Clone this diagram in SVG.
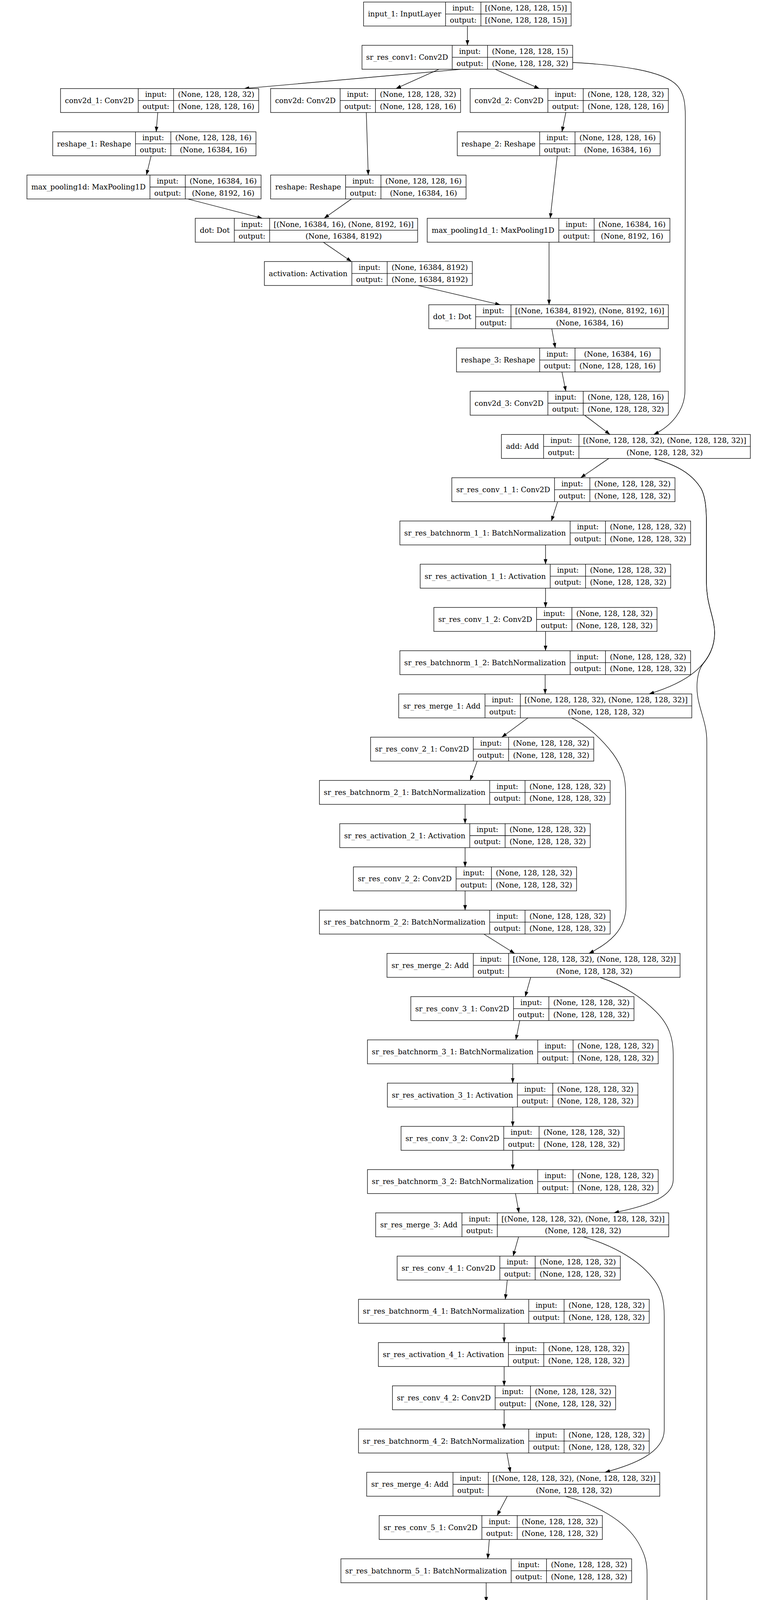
<svg xmlns="http://www.w3.org/2000/svg" xmlns:xlink="http://www.w3.org/1999/xlink" width="1959" height="6381" viewBox="0 0 1959 6381">
<style>
.b{fill:#fff;stroke:#000;stroke-width:1.33}
.l{fill:none;stroke:#000;stroke-width:1.33}
.e{fill:none;stroke:#000;stroke-width:1.33;marker-end:url(#ah)}
text{font-family:"DejaVu Serif","Liberation Serif",serif;font-size:18.67px;text-anchor:middle;fill:#000}
</style>
<defs>
<marker id="ah" viewBox="0 0 13 9.4" refX="13" refY="4.7" markerWidth="13" markerHeight="9.4" markerUnits="userSpaceOnUse" orient="auto"><path d="M0,0L13,4.7L0,9.4z" fill="#000"/></marker>
<g id="fc"><rect class="b" width="571.5" height="61.3"/><path class="l" d="M263,0V61.3M353.5,0V61.3M263,30.65H571.5"/></g>
<g id="fb"><rect class="b" width="744.5" height="61.3"/><path class="l" d="M436,0V61.3M526.5,0V61.3M436,30.65H744.5"/></g>
<g id="fa"><rect class="b" width="641.5" height="61.3"/><path class="l" d="M333,0V61.3M423.5,0V61.3M333,30.65H641.5"/></g>
<g id="fm"><rect class="b" width="750.5" height="61.3"/><path class="l" d="M221,0V61.3M311.5,0V61.3M221,30.65H750.5"/></g>
<g id="fk"><rect class="b" width="507.5" height="61.3"/><path class="l" d="M199,0V61.3M289.5,0V61.3M199,30.65H507.5"/></g>
</defs>
<rect width="1959" height="6381" fill="#fff"/>
<g id="edges">
<path class="e" d="M1197,66.6L1197,116"/>
<path class="e" d="M1181,177.3L625,226.7"/>
<path class="e" d="M1124,177.3L1014,226.7"/>
<path class="e" d="M1268,177.3L1381,226.7"/>
<path class="e" d="M1467,160C1580,166 1700,180 1735,220C1752,240 1755,265 1755,300L1754,1000C1754,1050 1720,1090 1674,1112.3"/>
<path class="e" d="M404,288L400,337.4"/>
<path class="e" d="M938,288L943,448.1"/>
<path class="e" d="M1449,288L1439,337.4"/>
<path class="e" d="M387,398.7L375,448.1"/>
<path class="e" d="M1427,398.7L1409,558.8"/>
<path class="e" d="M481,509.4L672,558.8"/>
<path class="e" d="M900,509.4L830,558.8"/>
<path class="e" d="M828,620.1L900,669.5"/>
<path class="e" d="M1071,730.8L1281,780.2"/>
<path class="e" d="M1406,620.1L1406,780.2"/>
<path class="e" d="M1413,841.5L1422,890.9"/>
<path class="e" d="M1439,952.2L1449,1001.6"/>
<path class="e" d="M1497,1062.9L1562,1112.3"/>
<path class="e" d="M1559,1173.6L1487,1223"/>
<path class="e" d="M1674,1173.6C1730,1190 1770,1210 1795,1250C1806,1270 1809,1300 1809,1340L1809,1490C1809,1550 1830,1580 1830,1620C1830,1660 1810,1690 1790,1710C1760,1740 1710,1762 1662,1776.5"/>
<path class="e" d="M1674,1173.6C1730,1190 1770,1210 1795,1250C1806,1270 1809,1300 1809,1340L1809,1490C1809,1550 1830,1580 1830,1620C1830,1660 1812,1685 1800,1700C1785,1720 1780,1760 1790,1800C1800,1840 1810,1860 1810,1900L1810,6075C1810,6140 1780,6175 1726,6204.5"/>
<path class="e" d="M1428,1284.3L1412,1333.7"/>
<path class="e" d="M1397,1395L1397,1444.4"/>
<path class="e" d="M1397,1505.7L1397,1555.1"/>
<path class="e" d="M1397,1616.4L1397,1665.8"/>
<path class="e" d="M1396,1727.1L1396,1776.5"/>
<path class="e" d="M1352,1837.8L1285,1887.2"/>
<path class="e" d="M1464,1837.8C1500,1855 1540,1890 1570,1930C1595,1965 1602,1990 1602,2030L1603,2320C1603,2380 1560,2415 1508,2440.7"/>
<path class="e" d="M1222,1948.5L1204,1997.9"/>
<path class="e" d="M1191,2059.2L1191,2108.6"/>
<path class="e" d="M1191,2169.9L1191,2219.3"/>
<path class="e" d="M1191,2280.6L1191,2330"/>
<path class="e" d="M1239,2391.3L1318,2440.7"/>
<path class="e" d="M1359,2502L1345,2551.4"/>
<path class="e" d="M1536,2502C1590,2520 1640,2550 1680,2590C1715,2625 1724,2660 1724,2700L1724,3020C1724,3070 1640,3090 1572,3104.9"/>
<path class="e" d="M1331,2612.7L1321,2662.1"/>
<path class="e" d="M1313,2723.4L1313,2772.8"/>
<path class="e" d="M1313,2834.1L1313,2883.5"/>
<path class="e" d="M1313,2944.8L1313,2994.2"/>
<path class="e" d="M1320,3055.5L1329,3104.9"/>
<path class="e" d="M1328,3166.2L1314,3215.6"/>
<path class="e" d="M1493,3166.2C1560,3185 1630,3220 1670,3270C1695,3300 1701,3330 1701,3370L1701,3660C1701,3720 1620,3750 1549,3769.1"/>
<path class="e" d="M1299,3276.9L1294,3326.3"/>
<path class="e" d="M1291,3387.6L1291,3437"/>
<path class="e" d="M1291,3498.3L1291,3547.7"/>
<path class="e" d="M1291,3609L1291,3658.4"/>
<path class="e" d="M1298,3719.7L1307,3769.1"/>
<path class="e" d="M1299,3830.4L1273,3879.8"/>
<path class="e" d="M1448,3830.4C1520,3850 1600,3890 1635,3950C1652,3980 1657,4000 1657,4030L1657,4290C1657,4380 1580,4415 1503,4433.3"/>
<path class="e" d="M1253,3941.1L1249,3990.5"/>
<path class="e" d="M1245,4051.8L1245,4101.2"/>
<path class="e" d="M1245,4162.5L1245,4211.9"/>
<path class="e" d="M1245,4273.2L1245,4322.6"/>
<path class="e" d="M1252,4383.9L1261,4433.3"/>
<path class="e" d="M1241,4494.6L1196,4544"/>
<path class="e" d="M1371,4494.6C1440,4520 1510,4555 1545,4610C1562,4640 1568,4660 1568,4700L1568,4970C1568,5040 1480,5075 1412,5097.5"/>
<path class="e" d="M1164,4605.3L1158,4654.7"/>
<path class="e" d="M1154,4716L1154,4765.4"/>
<path class="e" d="M1154,4826.7L1154,4876.1"/>
<path class="e" d="M1154,4937.4L1154,4986.8"/>
<path class="e" d="M1162,5048.1L1171,5097.5"/>
<path class="e" d="M956,5158.8L585,5208.2"/>
<path class="e" d="M1103,5158.8L981,5208.2"/>
<path class="e" d="M1249,5158.8L1362,5208.2"/>
<path class="e" d="M1553,5157C1620,5175 1700,5200 1727,5240C1740,5260 1743,5290 1743,5320L1743,5955C1743,6030 1690,6070 1630,6093.8"/>
<path class="e" d="M354,5269.5L344,5318.9"/>
<path class="e" d="M905,5269.5L910,5429.6"/>
<path class="e" d="M1431,5269.5L1424,5318.9"/>
<path class="e" d="M327,5380.2L322,5429.6"/>
<path class="e" d="M1416,5380.2L1397,5540.3"/>
<path class="e" d="M437,5490.9L643,5540.3"/>
<path class="e" d="M871,5490.9L806,5540.3"/>
<path class="e" d="M810,5601.6L878,5651"/>
<path class="e" d="M1053,5712.3L1266,5761.7"/>
<path class="e" d="M1395,5601.6L1395,5761.7"/>
<path class="e" d="M1402,5823L1411,5872.4"/>
<path class="e" d="M1424,5933.7L1431,5983.1"/>
<path class="e" d="M1438,6044.4L1441,6093.8"/>
<path class="e" d="M1493,6155.1L1572,6204.5"/>
<path class="e" d="M1625,6265.8L1625,6315.2"/>
</g>
<g id="nodes">
<g id="input_1" transform="translate(931,5.3)"><rect class="b" width="531.5" height="61.3"/><path class="l" d="M210,0V61.3M300.5,0V61.3M210,30.65H531.5"/><text x="105" y="37.2">input_1: InputLayer</text><text x="255.25" y="21.8">input:</text><text x="255.25" y="52.5">output:</text><text x="416" y="21.8">[(None, 128, 128, 15)]</text><text x="416" y="52.5">[(None, 128, 128, 15)]</text></g>
<g id="sr_res_conv1" transform="translate(927,116)"><rect class="b" width="539.5" height="61.3"/><path class="l" d="M231,0V61.3M321.5,0V61.3M231,30.65H539.5"/><text x="115.5" y="37.2">sr_res_conv1: Conv2D</text><text x="276.25" y="21.8">input:</text><text x="276.25" y="52.5">output:</text><text x="430.5" y="21.8">(None, 128, 128, 15)</text><text x="430.5" y="52.5">(None, 128, 128, 32)</text></g>
<g id="conv2d_1" transform="translate(155,226.7)"><use xlink:href="#fk"/><text x="99.5" y="37.2">conv2d_1: Conv2D</text><text x="244.25" y="21.8">input:</text><text x="244.25" y="52.5">output:</text><text x="398.5" y="21.8">(None, 128, 128, 32)</text><text x="398.5" y="52.5">(None, 128, 128, 16)</text></g>
<g id="conv2d" transform="translate(693,226.7)"><rect class="b" width="486.5" height="61.3"/><path class="l" d="M178,0V61.3M268.5,0V61.3M178,30.65H486.5"/><text x="89" y="37.2">conv2d: Conv2D</text><text x="223.25" y="21.8">input:</text><text x="223.25" y="52.5">output:</text><text x="377.5" y="21.8">(None, 128, 128, 32)</text><text x="377.5" y="52.5">(None, 128, 128, 16)</text></g>
<g id="conv2d_2" transform="translate(1204,226.7)"><use xlink:href="#fk"/><text x="99.5" y="37.2">conv2d_2: Conv2D</text><text x="244.25" y="21.8">input:</text><text x="244.25" y="52.5">output:</text><text x="398.5" y="21.8">(None, 128, 128, 32)</text><text x="398.5" y="52.5">(None, 128, 128, 16)</text></g>
<g id="reshape_1" transform="translate(135,337.4)"><rect class="b" width="520.5" height="61.3"/><path class="l" d="M212,0V61.3M302.5,0V61.3M212,30.65H520.5"/><text x="106" y="37.2">reshape_1: Reshape</text><text x="257.25" y="21.8">input:</text><text x="257.25" y="52.5">output:</text><text x="411.5" y="21.8">(None, 128, 128, 16)</text><text x="411.5" y="52.5">(None, 16384, 16)</text></g>
<g id="reshape_2" transform="translate(1171,337.4)"><rect class="b" width="519.5" height="61.3"/><path class="l" d="M211,0V61.3M301.5,0V61.3M211,30.65H519.5"/><text x="105.5" y="37.2">reshape_2: Reshape</text><text x="256.25" y="21.8">input:</text><text x="256.25" y="52.5">output:</text><text x="410.5" y="21.8">(None, 128, 128, 16)</text><text x="410.5" y="52.5">(None, 16384, 16)</text></g>
<g id="max_pooling1d" transform="translate(69,448.1)"><rect class="b" width="599.5" height="61.3"/><path class="l" d="M315,0V61.3M405.5,0V61.3M315,30.65H599.5"/><text x="157.5" y="37.2">max_pooling1d: MaxPooling1D</text><text x="360.25" y="21.8">input:</text><text x="360.25" y="52.5">output:</text><text x="502.5" y="21.8">(None, 16384, 16)</text><text x="502.5" y="52.5">(None, 8192, 16)</text></g>
<g id="reshape" transform="translate(693,448.1)"><rect class="b" width="500.5" height="61.3"/><path class="l" d="M192,0V61.3M282.5,0V61.3M192,30.65H500.5"/><text x="96" y="37.2">reshape: Reshape</text><text x="237.25" y="21.8">input:</text><text x="237.25" y="52.5">output:</text><text x="391.5" y="21.8">(None, 128, 128, 16)</text><text x="391.5" y="52.5">(None, 16384, 16)</text></g>
<g id="dot" transform="translate(500,558.8)"><rect class="b" width="569.5" height="61.3"/><path class="l" d="M100,0V61.3M190.5,0V61.3M100,30.65H569.5"/><text x="50" y="37.2">dot: Dot</text><text x="145.25" y="21.8">input:</text><text x="145.25" y="52.5">output:</text><text x="380" y="21.8">[(None, 16384, 16), (None, 8192, 16)]</text><text x="380" y="52.5">(None, 16384, 8192)</text></g>
<g id="max_pooling1d_1" transform="translate(1094,558.8)"><rect class="b" width="621.5" height="61.3"/><path class="l" d="M337,0V61.3M427.5,0V61.3M337,30.65H621.5"/><text x="168.5" y="37.2">max_pooling1d_1: MaxPooling1D</text><text x="382.25" y="21.8">input:</text><text x="382.25" y="52.5">output:</text><text x="524.5" y="21.8">(None, 16384, 16)</text><text x="524.5" y="52.5">(None, 8192, 16)</text></g>
<g id="activation" transform="translate(677,669.5)"><rect class="b" width="532.5" height="61.3"/><path class="l" d="M224,0V61.3M314.5,0V61.3M224,30.65H532.5"/><text x="112" y="37.2">activation: Activation</text><text x="269.25" y="21.8">input:</text><text x="269.25" y="52.5">output:</text><text x="423.5" y="21.8">(None, 16384, 8192)</text><text x="423.5" y="52.5">(None, 16384, 8192)</text></g>
<g id="dot_1" transform="translate(1098,780.2)"><rect class="b" width="613.5" height="61.3"/><path class="l" d="M120,0V61.3M210.5,0V61.3M120,30.65H613.5"/><text x="60" y="37.2">dot_1: Dot</text><text x="165.25" y="21.8">input:</text><text x="165.25" y="52.5">output:</text><text x="412" y="21.8">[(None, 16384, 8192), (None, 8192, 16)]</text><text x="412" y="52.5">(None, 16384, 16)</text></g>
<g id="reshape_3" transform="translate(1169,890.9)"><rect class="b" width="521.5" height="61.3"/><path class="l" d="M213,0V61.3M303.5,0V61.3M213,30.65H521.5"/><text x="106.5" y="37.2">reshape_3: Reshape</text><text x="258.25" y="21.8">input:</text><text x="258.25" y="52.5">output:</text><text x="412.5" y="21.8">(None, 16384, 16)</text><text x="412.5" y="52.5">(None, 128, 128, 16)</text></g>
<g id="conv2d_3" transform="translate(1204,1001.6)"><use xlink:href="#fk"/><text x="99.5" y="37.2">conv2d_3: Conv2D</text><text x="244.25" y="21.8">input:</text><text x="244.25" y="52.5">output:</text><text x="398.5" y="21.8">(None, 128, 128, 16)</text><text x="398.5" y="52.5">(None, 128, 128, 32)</text></g>
<g id="add" transform="translate(1284,1112.3)"><rect class="b" width="637.5" height="61.3"/><path class="l" d="M108,0V61.3M198.5,0V61.3M108,30.65H637.5"/><text x="54" y="37.2">add: Add</text><text x="153.25" y="21.8">input:</text><text x="153.25" y="52.5">output:</text><text x="418" y="21.8">[(None, 128, 128, 32), (None, 128, 128, 32)]</text><text x="418" y="52.5">(None, 128, 128, 32)</text></g>

<g id="sr_res_conv_1_1" transform="translate(1157,1223)"><use xlink:href="#fc"/><text x="131.5" y="37.2">sr_res_conv_1_1: Conv2D</text><text x="308.25" y="21.8">input:</text><text x="308.25" y="52.5">output:</text><text x="462.5" y="21.8">(None, 128, 128, 32)</text><text x="462.5" y="52.5">(None, 128, 128, 32)</text></g>
<g id="sr_res_batchnorm_1_1" transform="translate(1024,1333.7)"><use xlink:href="#fb"/><text x="218" y="37.2">sr_res_batchnorm_1_1: BatchNormalization</text><text x="481.25" y="21.8">input:</text><text x="481.25" y="52.5">output:</text><text x="635.5" y="21.8">(None, 128, 128, 32)</text><text x="635.5" y="52.5">(None, 128, 128, 32)</text></g>
<g id="sr_res_activation_1_1" transform="translate(1076,1444.4)"><use xlink:href="#fa"/><text x="166.5" y="37.2">sr_res_activation_1_1: Activation</text><text x="378.25" y="21.8">input:</text><text x="378.25" y="52.5">output:</text><text x="532.5" y="21.8">(None, 128, 128, 32)</text><text x="532.5" y="52.5">(None, 128, 128, 32)</text></g>
<g id="sr_res_conv_1_2" transform="translate(1111,1555.1)"><use xlink:href="#fc"/><text x="131.5" y="37.2">sr_res_conv_1_2: Conv2D</text><text x="308.25" y="21.8">input:</text><text x="308.25" y="52.5">output:</text><text x="462.5" y="21.8">(None, 128, 128, 32)</text><text x="462.5" y="52.5">(None, 128, 128, 32)</text></g>
<g id="sr_res_batchnorm_1_2" transform="translate(1024,1665.8)"><use xlink:href="#fb"/><text x="218" y="37.2">sr_res_batchnorm_1_2: BatchNormalization</text><text x="481.25" y="21.8">input:</text><text x="481.25" y="52.5">output:</text><text x="635.5" y="21.8">(None, 128, 128, 32)</text><text x="635.5" y="52.5">(None, 128, 128, 32)</text></g>
<g id="sr_res_merge_1" transform="translate(1021,1776.5)"><use xlink:href="#fm"/><text x="110.5" y="37.2">sr_res_merge_1: Add</text><text x="266.25" y="21.8">input:</text><text x="266.25" y="52.5">output:</text><text x="531" y="21.8">[(None, 128, 128, 32), (None, 128, 128, 32)]</text><text x="531" y="52.5">(None, 128, 128, 32)</text></g>

<g id="sr_res_conv_2_1" transform="translate(949,1887.2)"><use xlink:href="#fc"/><text x="131.5" y="37.2">sr_res_conv_2_1: Conv2D</text><text x="308.25" y="21.8">input:</text><text x="308.25" y="52.5">output:</text><text x="462.5" y="21.8">(None, 128, 128, 32)</text><text x="462.5" y="52.5">(None, 128, 128, 32)</text></g>
<g id="sr_res_batchnorm_2_1" transform="translate(818,1997.9)"><use xlink:href="#fb"/><text x="218" y="37.2">sr_res_batchnorm_2_1: BatchNormalization</text><text x="481.25" y="21.8">input:</text><text x="481.25" y="52.5">output:</text><text x="635.5" y="21.8">(None, 128, 128, 32)</text><text x="635.5" y="52.5">(None, 128, 128, 32)</text></g>
<g id="sr_res_activation_2_1" transform="translate(870,2108.6)"><use xlink:href="#fa"/><text x="166.5" y="37.2">sr_res_activation_2_1: Activation</text><text x="378.25" y="21.8">input:</text><text x="378.25" y="52.5">output:</text><text x="532.5" y="21.8">(None, 128, 128, 32)</text><text x="532.5" y="52.5">(None, 128, 128, 32)</text></g>
<g id="sr_res_conv_2_2" transform="translate(905,2219.3)"><use xlink:href="#fc"/><text x="131.5" y="37.2">sr_res_conv_2_2: Conv2D</text><text x="308.25" y="21.8">input:</text><text x="308.25" y="52.5">output:</text><text x="462.5" y="21.8">(None, 128, 128, 32)</text><text x="462.5" y="52.5">(None, 128, 128, 32)</text></g>
<g id="sr_res_batchnorm_2_2" transform="translate(818,2330)"><use xlink:href="#fb"/><text x="218" y="37.2">sr_res_batchnorm_2_2: BatchNormalization</text><text x="481.25" y="21.8">input:</text><text x="481.25" y="52.5">output:</text><text x="635.5" y="21.8">(None, 128, 128, 32)</text><text x="635.5" y="52.5">(None, 128, 128, 32)</text></g>
<g id="sr_res_merge_2" transform="translate(991,2440.7)"><use xlink:href="#fm"/><text x="110.5" y="37.2">sr_res_merge_2: Add</text><text x="266.25" y="21.8">input:</text><text x="266.25" y="52.5">output:</text><text x="531" y="21.8">[(None, 128, 128, 32), (None, 128, 128, 32)]</text><text x="531" y="52.5">(None, 128, 128, 32)</text></g>

<g id="sr_res_conv_3_1" transform="translate(1052,2551.4)"><use xlink:href="#fc"/><text x="131.5" y="37.2">sr_res_conv_3_1: Conv2D</text><text x="308.25" y="21.8">input:</text><text x="308.25" y="52.5">output:</text><text x="462.5" y="21.8">(None, 128, 128, 32)</text><text x="462.5" y="52.5">(None, 128, 128, 32)</text></g>
<g id="sr_res_batchnorm_3_1" transform="translate(941,2662.1)"><use xlink:href="#fb"/><text x="218" y="37.2">sr_res_batchnorm_3_1: BatchNormalization</text><text x="481.25" y="21.8">input:</text><text x="481.25" y="52.5">output:</text><text x="635.5" y="21.8">(None, 128, 128, 32)</text><text x="635.5" y="52.5">(None, 128, 128, 32)</text></g>
<g id="sr_res_activation_3_1" transform="translate(992,2772.8)"><use xlink:href="#fa"/><text x="166.5" y="37.2">sr_res_activation_3_1: Activation</text><text x="378.25" y="21.8">input:</text><text x="378.25" y="52.5">output:</text><text x="532.5" y="21.8">(None, 128, 128, 32)</text><text x="532.5" y="52.5">(None, 128, 128, 32)</text></g>
<g id="sr_res_conv_3_2" transform="translate(1027,2883.5)"><use xlink:href="#fc"/><text x="131.5" y="37.2">sr_res_conv_3_2: Conv2D</text><text x="308.25" y="21.8">input:</text><text x="308.25" y="52.5">output:</text><text x="462.5" y="21.8">(None, 128, 128, 32)</text><text x="462.5" y="52.5">(None, 128, 128, 32)</text></g>
<g id="sr_res_batchnorm_3_2" transform="translate(941,2994.2)"><use xlink:href="#fb"/><text x="218" y="37.2">sr_res_batchnorm_3_2: BatchNormalization</text><text x="481.25" y="21.8">input:</text><text x="481.25" y="52.5">output:</text><text x="635.5" y="21.8">(None, 128, 128, 32)</text><text x="635.5" y="52.5">(None, 128, 128, 32)</text></g>
<g id="sr_res_merge_3" transform="translate(962,3104.9)"><use xlink:href="#fm"/><text x="110.5" y="37.2">sr_res_merge_3: Add</text><text x="266.25" y="21.8">input:</text><text x="266.25" y="52.5">output:</text><text x="531" y="21.8">[(None, 128, 128, 32), (None, 128, 128, 32)]</text><text x="531" y="52.5">(None, 128, 128, 32)</text></g>

<g id="sr_res_conv_4_1" transform="translate(1017,3215.6)"><use xlink:href="#fc"/><text x="131.5" y="37.2">sr_res_conv_4_1: Conv2D</text><text x="308.25" y="21.8">input:</text><text x="308.25" y="52.5">output:</text><text x="462.5" y="21.8">(None, 128, 128, 32)</text><text x="462.5" y="52.5">(None, 128, 128, 32)</text></g>
<g id="sr_res_batchnorm_4_1" transform="translate(918,3326.3)"><use xlink:href="#fb"/><text x="218" y="37.2">sr_res_batchnorm_4_1: BatchNormalization</text><text x="481.25" y="21.8">input:</text><text x="481.25" y="52.5">output:</text><text x="635.5" y="21.8">(None, 128, 128, 32)</text><text x="635.5" y="52.5">(None, 128, 128, 32)</text></g>
<g id="sr_res_activation_4_1" transform="translate(969,3437)"><use xlink:href="#fa"/><text x="166.5" y="37.2">sr_res_activation_4_1: Activation</text><text x="378.25" y="21.8">input:</text><text x="378.25" y="52.5">output:</text><text x="532.5" y="21.8">(None, 128, 128, 32)</text><text x="532.5" y="52.5">(None, 128, 128, 32)</text></g>
<g id="sr_res_conv_4_2" transform="translate(1005,3547.7)"><use xlink:href="#fc"/><text x="131.5" y="37.2">sr_res_conv_4_2: Conv2D</text><text x="308.25" y="21.8">input:</text><text x="308.25" y="52.5">output:</text><text x="462.5" y="21.8">(None, 128, 128, 32)</text><text x="462.5" y="52.5">(None, 128, 128, 32)</text></g>
<g id="sr_res_batchnorm_4_2" transform="translate(918,3658.4)"><use xlink:href="#fb"/><text x="218" y="37.2">sr_res_batchnorm_4_2: BatchNormalization</text><text x="481.25" y="21.8">input:</text><text x="481.25" y="52.5">output:</text><text x="635.5" y="21.8">(None, 128, 128, 32)</text><text x="635.5" y="52.5">(None, 128, 128, 32)</text></g>
<g id="sr_res_merge_4" transform="translate(939,3769.1)"><use xlink:href="#fm"/><text x="110.5" y="37.2">sr_res_merge_4: Add</text><text x="266.25" y="21.8">input:</text><text x="266.25" y="52.5">output:</text><text x="531" y="21.8">[(None, 128, 128, 32), (None, 128, 128, 32)]</text><text x="531" y="52.5">(None, 128, 128, 32)</text></g>

<g id="sr_res_conv_5_1" transform="translate(971,3879.8)"><use xlink:href="#fc"/><text x="131.5" y="37.2">sr_res_conv_5_1: Conv2D</text><text x="308.25" y="21.8">input:</text><text x="308.25" y="52.5">output:</text><text x="462.5" y="21.8">(None, 128, 128, 32)</text><text x="462.5" y="52.5">(None, 128, 128, 32)</text></g>
<g id="sr_res_batchnorm_5_1" transform="translate(873,3990.5)"><use xlink:href="#fb"/><text x="218" y="37.2">sr_res_batchnorm_5_1: BatchNormalization</text><text x="481.25" y="21.8">input:</text><text x="481.25" y="52.5">output:</text><text x="635.5" y="21.8">(None, 128, 128, 32)</text><text x="635.5" y="52.5">(None, 128, 128, 32)</text></g>
<g id="sr_res_activation_5_1" transform="translate(924,4101.2)"><use xlink:href="#fa"/><text x="166.5" y="37.2">sr_res_activation_5_1: Activation</text><text x="378.25" y="21.8">input:</text><text x="378.25" y="52.5">output:</text><text x="532.5" y="21.8">(None, 128, 128, 32)</text><text x="532.5" y="52.5">(None, 128, 128, 32)</text></g>
<g id="sr_res_conv_5_2" transform="translate(959,4211.9)"><use xlink:href="#fc"/><text x="131.5" y="37.2">sr_res_conv_5_2: Conv2D</text><text x="308.25" y="21.8">input:</text><text x="308.25" y="52.5">output:</text><text x="462.5" y="21.8">(None, 128, 128, 32)</text><text x="462.5" y="52.5">(None, 128, 128, 32)</text></g>
<g id="sr_res_batchnorm_5_2" transform="translate(873,4322.6)"><use xlink:href="#fb"/><text x="218" y="37.2">sr_res_batchnorm_5_2: BatchNormalization</text><text x="481.25" y="21.8">input:</text><text x="481.25" y="52.5">output:</text><text x="635.5" y="21.8">(None, 128, 128, 32)</text><text x="635.5" y="52.5">(None, 128, 128, 32)</text></g>
<g id="sr_res_merge_5" transform="translate(894,4433.3)"><use xlink:href="#fm"/><text x="110.5" y="37.2">sr_res_merge_5: Add</text><text x="266.25" y="21.8">input:</text><text x="266.25" y="52.5">output:</text><text x="531" y="21.8">[(None, 128, 128, 32), (None, 128, 128, 32)]</text><text x="531" y="52.5">(None, 128, 128, 32)</text></g>

<g id="sr_res_conv_6_1" transform="translate(880,4544)"><use xlink:href="#fc"/><text x="131.5" y="37.2">sr_res_conv_6_1: Conv2D</text><text x="308.25" y="21.8">input:</text><text x="308.25" y="52.5">output:</text><text x="462.5" y="21.8">(None, 128, 128, 32)</text><text x="462.5" y="52.5">(None, 128, 128, 32)</text></g>
<g id="sr_res_batchnorm_6_1" transform="translate(782,4654.7)"><use xlink:href="#fb"/><text x="218" y="37.2">sr_res_batchnorm_6_1: BatchNormalization</text><text x="481.25" y="21.8">input:</text><text x="481.25" y="52.5">output:</text><text x="635.5" y="21.8">(None, 128, 128, 32)</text><text x="635.5" y="52.5">(None, 128, 128, 32)</text></g>
<g id="sr_res_activation_6_1" transform="translate(833,4765.4)"><use xlink:href="#fa"/><text x="166.5" y="37.2">sr_res_activation_6_1: Activation</text><text x="378.25" y="21.8">input:</text><text x="378.25" y="52.5">output:</text><text x="532.5" y="21.8">(None, 128, 128, 32)</text><text x="532.5" y="52.5">(None, 128, 128, 32)</text></g>
<g id="sr_res_conv_6_2" transform="translate(869,4876.1)"><use xlink:href="#fc"/><text x="131.5" y="37.2">sr_res_conv_6_2: Conv2D</text><text x="308.25" y="21.8">input:</text><text x="308.25" y="52.5">output:</text><text x="462.5" y="21.8">(None, 128, 128, 32)</text><text x="462.5" y="52.5">(None, 128, 128, 32)</text></g>
<g id="sr_res_batchnorm_6_2" transform="translate(782,4986.8)"><use xlink:href="#fb"/><text x="218" y="37.2">sr_res_batchnorm_6_2: BatchNormalization</text><text x="481.25" y="21.8">input:</text><text x="481.25" y="52.5">output:</text><text x="635.5" y="21.8">(None, 128, 128, 32)</text><text x="635.5" y="52.5">(None, 128, 128, 32)</text></g>
<g id="sr_res_merge_6" transform="translate(803,5097.5)"><use xlink:href="#fm"/><text x="110.5" y="37.2">sr_res_merge_6: Add</text><text x="266.25" y="21.8">input:</text><text x="266.25" y="52.5">output:</text><text x="531" y="21.8">[(None, 128, 128, 32), (None, 128, 128, 32)]</text><text x="531" y="52.5">(None, 128, 128, 32)</text></g>

<g id="conv2d_5" transform="translate(110,5208.2)"><use xlink:href="#fk"/><text x="99.5" y="37.2">conv2d_5: Conv2D</text><text x="244.25" y="21.8">input:</text><text x="244.25" y="52.5">output:</text><text x="398.5" y="21.8">(None, 128, 128, 32)</text><text x="398.5" y="52.5">(None, 128, 128, 16)</text></g>
<g id="conv2d_4" transform="translate(650,5208.2)"><rect class="b" width="506.5" height="61.3"/><path class="l" d="M198,0V61.3M288.5,0V61.3M198,30.65H506.5"/><text x="99" y="37.2">conv2d_4: Conv2D</text><text x="243.25" y="21.8">input:</text><text x="243.25" y="52.5">output:</text><text x="397.5" y="21.8">(None, 128, 128, 32)</text><text x="397.5" y="52.5">(None, 128, 128, 16)</text></g>
<g id="conv2d_6" transform="translate(1182,5208.2)"><use xlink:href="#fk"/><text x="99.5" y="37.2">conv2d_6: Conv2D</text><text x="244.25" y="21.8">input:</text><text x="244.25" y="52.5">output:</text><text x="398.5" y="21.8">(None, 128, 128, 32)</text><text x="398.5" y="52.5">(None, 128, 128, 16)</text></g>
<g id="reshape_5" transform="translate(71,5318.9)"><rect class="b" width="521.5" height="61.3"/><path class="l" d="M213,0V61.3M303.5,0V61.3M213,30.65H521.5"/><text x="106.5" y="37.2">reshape_5: Reshape</text><text x="258.25" y="21.8">input:</text><text x="258.25" y="52.5">output:</text><text x="412.5" y="21.8">(None, 128, 128, 16)</text><text x="412.5" y="52.5">(None, 16384, 16)</text></g>
<g id="reshape_6" transform="translate(1159,5318.9)"><rect class="b" width="520.5" height="61.3"/><path class="l" d="M212,0V61.3M302.5,0V61.3M212,30.65H520.5"/><text x="106" y="37.2">reshape_6: Reshape</text><text x="257.25" y="21.8">input:</text><text x="257.25" y="52.5">output:</text><text x="411.5" y="21.8">(None, 128, 128, 16)</text><text x="411.5" y="52.5">(None, 16384, 16)</text></g>
<g id="max_pooling1d_2" transform="translate(6,5429.6)"><rect class="b" width="619.5" height="61.3"/><path class="l" d="M335,0V61.3M425.5,0V61.3M335,30.65H619.5"/><text x="167.5" y="37.2">max_pooling1d_2: MaxPooling1D</text><text x="380.25" y="21.8">input:</text><text x="380.25" y="52.5">output:</text><text x="522.5" y="21.8">(None, 16384, 16)</text><text x="522.5" y="52.5">(None, 8192, 16)</text></g>
<g id="reshape_4" transform="translate(652,5429.6)"><rect class="b" width="519.5" height="61.3"/><path class="l" d="M211,0V61.3M301.5,0V61.3M211,30.65H519.5"/><text x="105.5" y="37.2">reshape_4: Reshape</text><text x="256.25" y="21.8">input:</text><text x="256.25" y="52.5">output:</text><text x="410.5" y="21.8">(None, 128, 128, 16)</text><text x="410.5" y="52.5">(None, 16384, 16)</text></g>
<g id="dot_2" transform="translate(469,5540.3)"><rect class="b" width="589.5" height="61.3"/><path class="l" d="M119,0V61.3M209.5,0V61.3M119,30.65H589.5"/><text x="59.5" y="37.2">dot_2: Dot</text><text x="164.25" y="21.8">input:</text><text x="164.25" y="52.5">output:</text><text x="399.5" y="21.8">[(None, 16384, 16), (None, 8192, 16)]</text><text x="399.5" y="52.5">(None, 16384, 8192)</text></g>
<g id="max_pooling1d_3" transform="translate(1083,5540.3)"><rect class="b" width="621.5" height="61.3"/><path class="l" d="M337,0V61.3M427.5,0V61.3M337,30.65H621.5"/><text x="168.5" y="37.2">max_pooling1d_3: MaxPooling1D</text><text x="382.25" y="21.8">input:</text><text x="382.25" y="52.5">output:</text><text x="524.5" y="21.8">(None, 16384, 16)</text><text x="524.5" y="52.5">(None, 8192, 16)</text></g>
<g id="activation_1" transform="translate(645,5651)"><rect class="b" width="553.5" height="61.3"/><path class="l" d="M245,0V61.3M335.5,0V61.3M245,30.65H553.5"/><text x="122.5" y="37.2">activation_1: Activation</text><text x="290.25" y="21.8">input:</text><text x="290.25" y="52.5">output:</text><text x="444.5" y="21.8">(None, 16384, 8192)</text><text x="444.5" y="52.5">(None, 16384, 8192)</text></g>
<g id="dot_3" transform="translate(1087,5761.7)"><rect class="b" width="614.5" height="61.3"/><path class="l" d="M120,0V61.3M210.5,0V61.3M120,30.65H614.5"/><text x="60" y="37.2">dot_3: Dot</text><text x="165.25" y="21.8">input:</text><text x="165.25" y="52.5">output:</text><text x="412.5" y="21.8">[(None, 16384, 8192), (None, 8192, 16)]</text><text x="412.5" y="52.5">(None, 16384, 16)</text></g>
<g id="reshape_7" transform="translate(1158,5872.4)"><rect class="b" width="521.5" height="61.3"/><path class="l" d="M213,0V61.3M303.5,0V61.3M213,30.65H521.5"/><text x="106.5" y="37.2">reshape_7: Reshape</text><text x="258.25" y="21.8">input:</text><text x="258.25" y="52.5">output:</text><text x="412.5" y="21.8">(None, 16384, 16)</text><text x="412.5" y="52.5">(None, 128, 128, 16)</text></g>
<g id="conv2d_7" transform="translate(1181,5983.1)"><use xlink:href="#fk"/><text x="99.5" y="37.2">conv2d_7: Conv2D</text><text x="244.25" y="21.8">input:</text><text x="244.25" y="52.5">output:</text><text x="398.5" y="21.8">(None, 128, 128, 16)</text><text x="398.5" y="52.5">(None, 128, 128, 32)</text></g>
<g id="add_1" transform="translate(1113,6093.8)"><rect class="b" width="657.5" height="61.3"/><path class="l" d="M128,0V61.3M218.5,0V61.3M128,30.65H657.5"/><text x="64" y="37.2">add_1: Add</text><text x="173.25" y="21.8">input:</text><text x="173.25" y="52.5">output:</text><text x="438" y="21.8">[(None, 128, 128, 32), (None, 128, 128, 32)]</text><text x="438" y="52.5">(None, 128, 128, 32)</text></g>
<g id="add_2" transform="translate(1297,6204.5)"><rect class="b" width="655.5" height="61.3"/><path class="l" d="M126,0V61.3M216.5,0V61.3M126,30.65H655.5"/><text x="63" y="37.2">add_2: Add</text><text x="171.25" y="21.8">input:</text><text x="171.25" y="52.5">output:</text><text x="436" y="21.8">[(None, 128, 128, 32), (None, 128, 128, 32)]</text><text x="436" y="52.5">(None, 128, 128, 32)</text></g>
<g id="sr_res_conv_final" transform="translate(1336,6315.2)"><rect class="b" width="576.5" height="61.3"/><path class="l" d="M269,0V61.3M359.5,0V61.3M269,30.65H576.5"/><text x="134.5" y="37.2">sr_res_conv_final: Conv2D</text><text x="314.25" y="21.8">input:</text><text x="314.25" y="52.5">output:</text><text x="468" y="21.8">(None, 128, 128, 32)</text><text x="468" y="52.5">(None, 128, 128, 3)</text></g>
</g>
</svg>
